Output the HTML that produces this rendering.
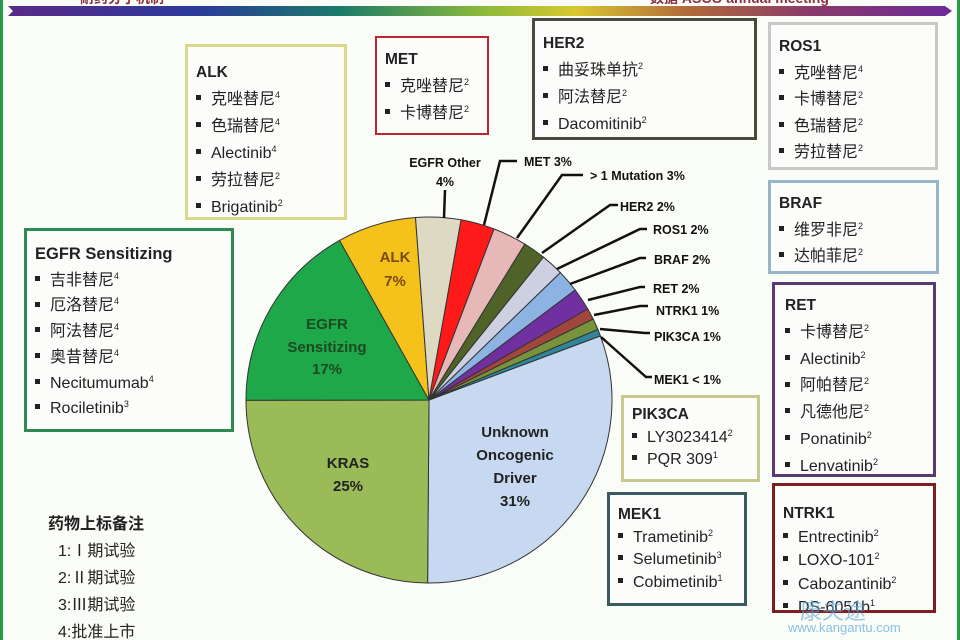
<!DOCTYPE html>
<html style="overflow:hidden;height:640px"><head><meta charset="utf-8">
<style>
body{margin:0;width:960px;height:640px;overflow:hidden;background:#fafcf8;font-family:"Liberation Sans","Noto Sans CJK SC",sans-serif;position:relative}
.b{position:absolute;box-sizing:border-box;background:#fcfdfb;color:#222;overflow:hidden}
.b div{white-space:nowrap;font-size:16px;overflow:visible}
.b .t{font-weight:bold;font-size:15.5px}
.b .i:before{content:"";display:inline-block;width:5px;height:5px;background:#222;margin-right:10px;vertical-align:middle;position:relative;top:-2px}
sup{font-size:9px;vertical-align:baseline;position:relative;top:-6px;line-height:0}
.lg{position:absolute;left:48px;font-size:16px;color:#222;line-height:18px}
</style></head><body>
<div style="position:absolute;left:0;top:0;width:3px;height:640px;background:#2a9a4a"></div>
<div style="position:absolute;right:0;top:0;width:3px;height:640px;background:#2a9a4a"></div>
<svg style="position:absolute;left:0;top:0" width="960" height="20">
<defs><linearGradient id="g" x1="0" x2="1"><stop offset="0" stop-color="#5a2a8a"/><stop offset="0.2" stop-color="#2a3a9a"/><stop offset="0.35" stop-color="#1a7a6a"/><stop offset="0.5" stop-color="#8ab83a"/><stop offset="0.6" stop-color="#d8c830"/><stop offset="0.72" stop-color="#b06a3a"/><stop offset="0.85" stop-color="#8a3a6a"/><stop offset="1" stop-color="#6a2a9a"/></linearGradient></defs>
<polygon points="8,6 945,6 952,11 945,16 8,16 13,11" fill="url(#g)"/>
<text x="80" y="3" font-size="14" font-weight="bold" fill="#8a3040">耐药分子机制</text>
<text x="650" y="3" font-size="14" font-weight="bold" fill="#8a3040">数据 ASCO annual meeting</text>
</svg>

<svg id="pie" style="position:absolute;left:0;top:0" width="960" height="640"></svg>

<div class="b" style="left:185px;top:44px;width:162px;height:176px;border:3px solid #d8d88a;padding:12px 0 0 8px;line-height:27px">
<div class="t">ALK</div><div class="i">克唑替尼<sup>4</sup></div><div class="i">色瑞替尼<sup>4</sup></div><div class="i">Alectinib<sup>4</sup></div><div class="i">劳拉替尼<sup>2</sup></div><div class="i">Brigatinib<sup>2</sup></div></div>

<div class="b" style="left:375px;top:36px;width:114px;height:99px;border:2px solid #b8282d;padding:8px 0 0 8px;line-height:27px">
<div class="t">MET</div><div class="i">克唑替尼<sup>2</sup></div><div class="i">卡博替尼<sup>2</sup></div></div>

<div class="b" style="left:532px;top:18px;width:225px;height:122px;border:3px solid #4a4a3a;padding:9px 0 0 8px;line-height:27px">
<div class="t">HER2</div><div class="i">曲妥珠单抗<sup>2</sup></div><div class="i">阿法替尼<sup>2</sup></div><div class="i">Dacomitinib<sup>2</sup></div></div>

<div class="b" style="left:768px;top:22px;width:170px;height:148px;border:3px solid #c8c8c8;padding:9px 0 0 8px;line-height:26.5px">
<div class="t">ROS1</div><div class="i">克唑替尼<sup>4</sup></div><div class="i">卡博替尼<sup>2</sup></div><div class="i">色瑞替尼<sup>2</sup></div><div class="i">劳拉替尼<sup>2</sup></div></div>

<div class="b" style="left:768px;top:180px;width:171px;height:94px;border:3px solid #98b4c8;padding:8px 0 0 8px;line-height:26.5px">
<div class="t">BRAF</div><div class="i">维罗非尼<sup>2</sup></div><div class="i">达帕菲尼<sup>2</sup></div></div>

<div class="b" style="left:772px;top:282px;width:164px;height:195px;border:3px solid #5a3a72;padding:8px 0 0 10px;line-height:26.8px">
<div class="t">RET</div><div class="i">卡博替尼<sup>2</sup></div><div class="i">Alectinib<sup>2</sup></div><div class="i">阿帕替尼<sup>2</sup></div><div class="i">凡德他尼<sup>2</sup></div><div class="i">Ponatinib<sup>2</sup></div><div class="i">Lenvatinib<sup>2</sup></div></div>

<div class="b" style="left:772px;top:483px;width:164px;height:130px;border:3px solid #7b2020;padding:16px 0 0 8px;line-height:23.5px">
<div class="t">NTRK1</div><div class="i">Entrectinib<sup>2</sup></div><div class="i">LOXO-101<sup>2</sup></div><div class="i">Cabozantinib<sup>2</sup></div><div class="i">DS-6051b<sup>1</sup></div></div>

<div class="b" style="left:607px;top:492px;width:140px;height:114px;border:3px solid #3b5a5e;padding:9px 0 0 8px;line-height:22.5px">
<div class="t">MEK1</div><div class="i">Trametinib<sup>2</sup></div><div class="i">Selumetinib<sup>3</sup></div><div class="i">Cobimetinib<sup>1</sup></div></div>

<div class="b" style="left:621px;top:395px;width:139px;height:87px;border:3px solid #c8c890;padding:6px 0 0 8px;line-height:22.5px">
<div class="t">PIK3CA</div><div class="i">LY3023414<sup>2</sup></div><div class="i">PQR 309<sup>1</sup></div></div>

<div class="b" style="left:24px;top:228px;width:210px;height:204px;border:3px solid #2f8a52;padding:11px 0 0 8px;line-height:25.7px">
<div class="t" style="font-size:16.5px">EGFR Sensitizing</div><div class="i">吉非替尼<sup>4</sup></div><div class="i">厄洛替尼<sup>4</sup></div><div class="i">阿法替尼<sup>4</sup></div><div class="i">奥昔替尼<sup>4</sup></div><div class="i">Necitumumab<sup>4</sup></div><div class="i">Rociletinib<sup>3</sup></div></div>

<div class="lg" style="top:516px;font-weight:bold">药物上标备注</div>
<div class="lg" style="top:543px;left:58px">1:Ⅰ期试验</div>
<div class="lg" style="top:570px;left:58px">2:Ⅱ期试验</div>
<div class="lg" style="top:597px;left:58px">3:Ⅲ期试验</div>
<div class="lg" style="top:624px;left:58px">4:批准上市</div>

<div style="position:absolute;left:800px;top:600px;font-size:22px;line-height:24px;color:#5aa8d8;opacity:.6">康夫途</div>
<div style="position:absolute;left:788px;top:620px;font-size:13px;line-height:15px;color:#5aa8d8;opacity:.7">www.kangantu.com</div>

<script>
var cx=429,cy=400,r=183;
var s=[["#c6d9f0",31],["#9bbb59",25],["#1fa84a",17],["#f5c21b",7],["#ddd9c3",4],["#ff1a1a",3],["#e6b9b8",3],["#4f6228",2],["#ccd0e0",2],["#8db3e2",2],["#7030a0",2],["#a0463c",1],["#77933c",1],["#31859b",0.6]];
var tot=0;s.forEach(function(a){tot+=a[1]});
var h="";
function pt(d){var t=d*Math.PI/180;return [cx+r*Math.sin(t),cy-r*Math.cos(t)];}
var a=69.5;
s.forEach(function(x,i){var sw=x[1]*360/tot;var a0=a,a1=a+sw;var p=pt(a0),q=pt(a1);
h+='<path d="M'+cx+','+cy+' L'+p[0].toFixed(1)+','+p[1].toFixed(1)+' A'+r+','+r+' 0 '+(sw>180?1:0)+' 1 '+q[0].toFixed(1)+','+q[1].toFixed(1)+' Z" fill="'+x[0]+'" stroke="#333" stroke-width="1"/>';a=a1;});
var L=[[[484,225],[500,161],[517,161]],[[517,238],[562,175],[583,175]],[[542,253],[610,205],[618,205]],[[557,269],[640,229],[647,229]],[[570,284],[640,258],[646,258]],[[588,300],[640,287],[645,287]],[[594,315],[640,306],[648,306]],[[600,329],[645,333],[650,333]],[[601,337],[646,377],[652,377]],[[444,218],[445,190]]];
L.forEach(function(l){h+='<polyline points="'+l.map(function(p){return p.join(',')}).join(' ')+'" fill="none" stroke="#111" stroke-width="2.5"/>';});
var T=[["EGFR Other",445,167,"middle"],["4%",445,186,"middle"],["MET 3%",524,166,"start"],["> 1 Mutation 3%",590,180,"start"],["HER2 2%",620,211,"start"],["ROS1 2%",653,234,"start"],["BRAF 2%",654,264,"start"],["RET 2%",653,293,"start"],["NTRK1 1%",656,315,"start"],["PIK3CA 1%",654,341,"start"],["MEK1 < 1%",654,384,"start"]];
T.forEach(function(t){h+='<text x="'+t[1]+'" y="'+t[2]+'" font-size="12.5" font-weight="bold" fill="#111" text-anchor="'+t[3]+'">'+t[0].replace('<','&lt;').replace('>','&gt;')+'</text>';});
var I=[["ALK",395,262,"#7a4a10"],["7%",395,286,"#7a4a10"],["EGFR",327,329,"#1a4a20"],["Sensitizing",327,352,"#1a4a20"],["17%",327,374,"#1a4a20"],["KRAS",348,468,"#222"],["25%",348,491,"#222"],["Unknown",515,437,"#222"],["Oncogenic",515,460,"#222"],["Driver",515,483,"#222"],["31%",515,506,"#222"]];
I.forEach(function(t){h+='<text x="'+t[1]+'" y="'+t[2]+'" font-size="15" font-weight="bold" fill="'+t[3]+'" text-anchor="middle">'+t[0]+'</text>';});
document.getElementById('pie').innerHTML=h;
</script>
</body></html>
